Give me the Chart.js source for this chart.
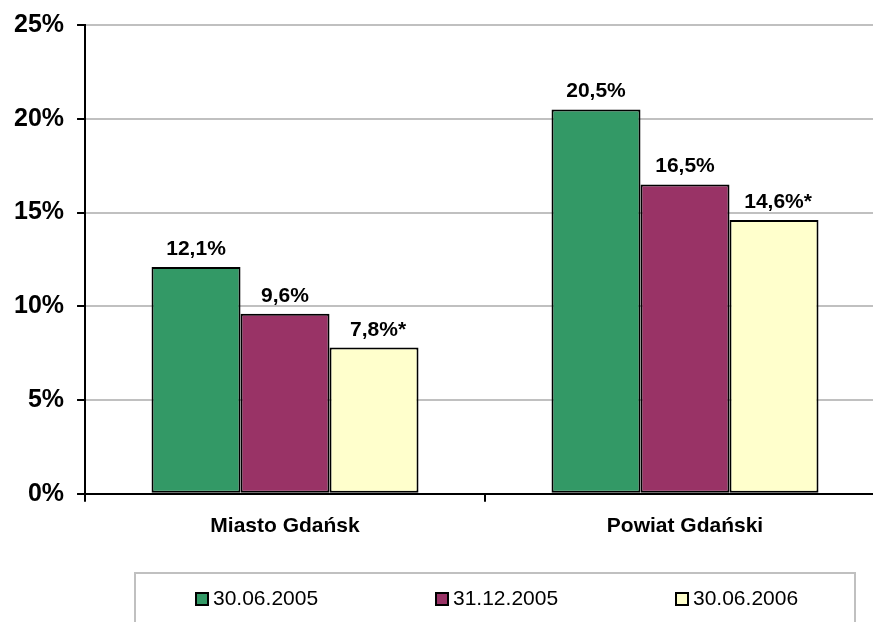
<!DOCTYPE html>
<html>
<head>
<meta charset="utf-8">
<script src="https://cdn.jsdelivr.net/npm/chart.js@4.4.0/dist/chart.umd.min.js"></script>
<style>
    html, body { margin: 0; padding: 0; background: #fff; overflow: hidden; }
    #wrap { position: relative; width: 873px; height: 622px; overflow: hidden; }
    #wrap canvas { position: absolute; left: 0; top: -3px; }
    #legend {
        position: absolute; left: 134px; top: 572px; width: 722px; height: 80px;
        border: 2px solid #c0c0c0; box-sizing: border-box;
        font-family: Arial, 'Liberation Sans', sans-serif; font-size: 21px; color: #000;
    }
    .item { position: absolute; top: 12px; height: 24px; line-height: 24px; white-space: nowrap; }
    .box { display: inline-block; width: 14px; height: 14px; border: 2px solid #000; box-sizing: border-box; vertical-align: -1px; margin-right: 4px; }
</style>
</head>
<body>
<div id="wrap">
    <canvas id="chart" width="890" height="622" style="width:890px;height:622px"></canvas>
    <div id="legend"></div>
</div>
<script>
const categories = ['Miasto Gdańsk', 'Powiat Gdański'];
const seriesNames = ['30.06.2005', '31.12.2005', '30.06.2006'];
const seriesValues = [
    [12.1, 20.5],
    [9.6, 16.5],
    [7.8, 14.6]
];
const seriesNotes = ['', '', '*'];
const seriesColors = ['#339966', '#993366', '#ffffcc'];
const yTicks = [0, 5, 10, 15, 20, 25];

const FONT = "Arial, 'Liberation Sans', sans-serif";

// legend (html)
const legend = document.getElementById('legend');
seriesNames.forEach((name, i) => {
    const item = document.createElement('div');
    item.className = 'item';
    item.style.left = (59 + i * 240) + 'px';
    item.innerHTML = '<span class="box" style="background:' + seriesColors[i] + '"></span>' + name;
    legend.appendChild(item);
});

// value labels above the bars
const valueLabels = {
    id: 'valueLabels',
    afterDatasetsDraw(chart) {
        const ctx = chart.ctx;
        ctx.save();
        ctx.font = 'bold 21px ' + FONT;
        ctx.fillStyle = '#000';
        ctx.textBaseline = 'alphabetic';
        ctx.textAlign = 'left';
        chart.data.datasets.forEach((ds, i) => {
            chart.getDatasetMeta(i).data.forEach((bar, j) => {
                const main = ds.data[j].toFixed(1).replace('.', ',') + '%';
                const w = ctx.measureText(main).width;
                ctx.fillText(main + seriesNotes[i], bar.x - w / 2, bar.y - 12);
            });
        });
        ctx.restore();
    }
};

new Chart(document.getElementById('chart').getContext('2d'), {
    type: 'bar',
    data: {
        labels: categories,
        datasets: seriesNames.map((name, i) => ({
            label: name,
            data: seriesValues[i],
            backgroundColor: seriesColors[i],
            borderColor: '#000',
            borderWidth: 2,
            borderSkipped: false,
            barPercentage: 1,
            categoryPercentage: 0.6675
        }))
    },
    options: {
        responsive: false,
        animation: false,
        layout: { padding: { left: 1, top: 0, right: 5, bottom: 68 } },
        plugins: {
            legend: { display: false },
            tooltip: { enabled: false }
        },
        scales: {
            x: {
                grid: {
                    display: true,
                    drawOnChartArea: false,
                    offset: true,
                    color: '#000',
                    lineWidth: 2,
                    tickLength: 8
                },
                border: { color: '#000', width: 2 },
                ticks: {
                    color: '#000',
                    padding: 12,
                    font: { family: FONT, size: 21, weight: 'bold' }
                }
            },
            y: {
                min: yTicks[0],
                max: yTicks[yTicks.length - 1],
                afterBuildTicks(axis) {
                    axis.ticks = yTicks.map(v => ({ value: v }));
                },
                grid: {
                    color: '#c0c0c0',
                    lineWidth: 2,
                    tickColor: '#000',
                    tickLength: 8
                },
                border: { color: '#000', width: 2 },
                ticks: {
                    color: '#000',
                    padding: 13,
                    font: { family: FONT, size: 25, weight: 'bold' },
                    callback: v => v + '%'
                }
            }
        }
    },
    plugins: [valueLabels]
});
</script>
</body>
</html>
